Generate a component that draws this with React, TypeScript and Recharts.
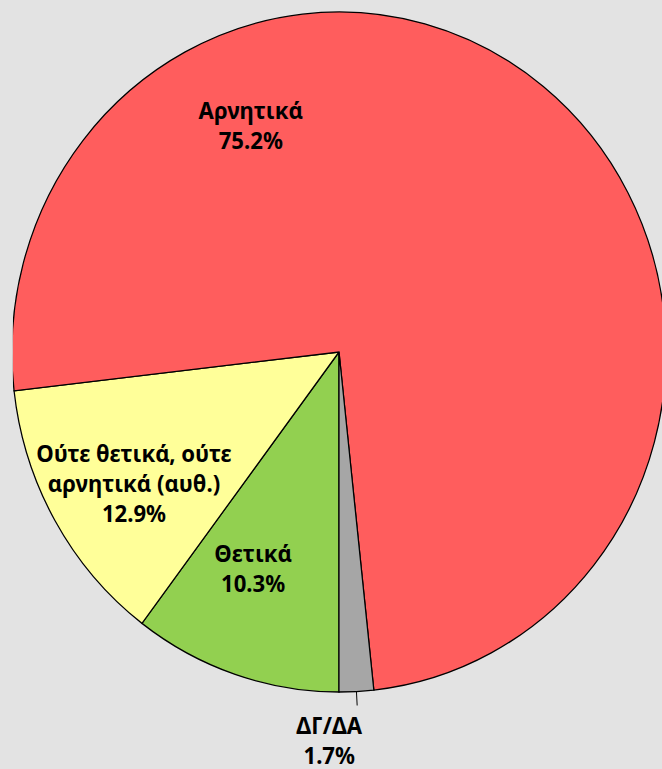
import { PieChart, Pie, Cell } from "recharts";

// Στάση απέναντι στο θέμα (%)
const categories = ["Θετικά", "Ούτε θετικά, ούτε\nαρνητικά (αυθ.)", "Αρνητικά", "ΔΓ/ΔΑ"];
const values = [10.3, 12.9, 75.2, 1.7];
const colors = ["#92d050", "#ffff99", "#ff5d5d", "#a6a6a6"];

// where each label sits: angle (deg) and fraction of the radius
const labelSpots = [
  { angle: 247.5, r: 0.686 },
  { angle: 211.6, r: 0.736 },
  { angle: 112.0, r: 0.72 },
  { angle: 268.5, r: 1.14 },
];

const data = categories.map((name, i) => ({ name, value: values[i] }));

const RAD = Math.PI / 180;
const LINE_H = 30;

const renderLabel = (props: any) => {
  const { cx, cy, outerRadius, midAngle, index } = props;
  const spot = labelSpots[index];
  const x = cx + outerRadius * spot.r * Math.cos(spot.angle * RAD);
  const y = cy - outerRadius * spot.r * Math.sin(spot.angle * RAD);
  const lines = [...data[index].name.split("\n"), `${data[index].value.toFixed(1)}%`];
  const top = y - ((lines.length - 1) * LINE_H) / 2;
  const outside = spot.r > 1;
  return (
    <g>
      {outside && (
        <line
          x1={cx + outerRadius * Math.cos(midAngle * RAD)}
          y1={cy - outerRadius * Math.sin(midAngle * RAD)}
          x2={cx + (outerRadius + 14) * Math.cos(midAngle * RAD)}
          y2={cy - (outerRadius + 14) * Math.sin(midAngle * RAD)}
          stroke="#000"
          strokeWidth={1}
        />
      )}
      <text
        textAnchor="middle"
        dominantBaseline="central"
        fontFamily="'Noto Sans', sans-serif"
        fontWeight="bold"
        fontSize={23}
        fill="#000"
      >
        {lines.map((l, i) => (
          <tspan key={i} x={x} y={top + i * LINE_H}>
            {l}
          </tspan>
        ))}
      </text>
    </g>
  );
};

export default function App() {
  return (
    <div
      style={{
        position: "absolute",
        left: 0,
        top: 0,
        width: 662,
        height: 769,
        background: "#e3e3e3",
        overflow: "hidden",
      }}
    >
      <div style={{ transform: "scaleX(0.962)", transformOrigin: "339px 0" }}>
        <PieChart width={720} height={769} margin={{ top: 0, right: 0, bottom: 0, left: 0 }}>
          <Pie
            data={data}
            dataKey="value"
            nameKey="name"
            cx={339}
            cy={352}
            outerRadius={340}
            startAngle={270}
            endAngle={-90}
            stroke="#000"
            strokeWidth={1.3}
            label={renderLabel}
            labelLine={false}
            isAnimationActive={false}
          >
            {data.map((d, i) => (
              <Cell key={d.name} fill={colors[i]} />
            ))}
          </Pie>
        </PieChart>
      </div>
    </div>
  );
}
